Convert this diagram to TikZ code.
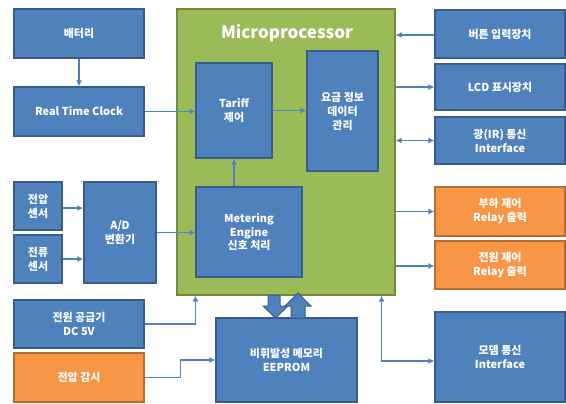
\documentclass[tikz,border=0pt]{standalone}
\usepackage{fontspec}
\setmainfont{Noto Sans CJK KR}
\usetikzlibrary{arrows.meta}

\definecolor{boxblue}{HTML}{4F81BD}
\definecolor{lineblue}{HTML}{385D8A}
\definecolor{boxorange}{HTML}{F79646}
\definecolor{lineorange}{HTML}{B66D31}
\definecolor{boxgreen}{HTML}{9BBB59}
\definecolor{linegreen}{HTML}{71893F}

\tikzset{
  bluebox/.style={draw=lineblue, fill=boxblue, line width=1.2bp, text=white,
    font=\fontsize{11}{14}\selectfont\bfseries, align=center, inner sep=1bp},
  orangebox/.style={bluebox, draw=lineorange, fill=boxorange},
  conn/.style={draw=boxblue, line width=1.3bp, -{Latex[length=6bp,width=6bp]}},
  bothconn/.style={conn, {Latex[length=6bp,width=6bp]}-{Latex[length=6bp,width=6bp]}},
  blockarrow/.style={draw=lineblue, fill=boxblue, line width=1bp}
}

\begin{document}
\begin{tikzpicture}[x=1bp, y=-1bp]
\useasboundingbox (0,0) rectangle (566,403);

% Microprocessor
\node[draw=linegreen, fill=boxgreen, line width=1.2bp, minimum width=218bp,
  minimum height=286bp, inner sep=0] (mcu) at (286,152) {};
\node[text=white, font=\fontsize{17}{20}\selectfont\bfseries] (mcutitle) at (287,33) {Microprocessor};

% Inside the microprocessor
\node[bluebox, minimum width=76bp, minimum height=95bp] (tariff) at (234,110.5) {Tariff\\제어};
\node[bluebox, minimum width=71bp, minimum height=120bp] (info) at (342.5,111) {요금 정보\\데이터\\관리};
\node[bluebox, minimum width=106bp, minimum height=90bp] (metering) at (249,232) {Metering\\Engine\\신호 처리};

% Left column
\node[bluebox, minimum width=130bp, minimum height=49bp] (battery) at (79,33.5) {배터리};
\node[bluebox, minimum width=130bp, minimum height=49bp] (rtc) at (79,111.5) {Real Time Clock};
\node[bluebox, minimum width=48bp, minimum height=48bp] (vsens) at (38,206) {전압\\센서};
\node[bluebox, minimum width=48bp, minimum height=48bp] (csens) at (38,259) {전류\\센서};
\node[bluebox, minimum width=72bp, minimum height=101bp] (adc) at (120,232.5) {A/D\\변환기};
\node[bluebox, minimum width=130bp, minimum height=48bp] (psu) at (79,324) {전원 공급기\\DC 5V};
\node[orangebox, minimum width=130bp, minimum height=49bp] (vmon) at (79,377.5) {전압 감시};
\node[bluebox, minimum width=141bp, minimum height=84bp] (eeprom) at (286.5,360) {비휘발성 메모리\\EEPROM};

% Right column
\node[bluebox, minimum width=130bp, minimum height=48bp] (button) at (500,34) {버튼 입력장치};
\node[bluebox, minimum width=130bp, minimum height=46bp] (lcd) at (500,87) {LCD 표시장치};
\node[bluebox, minimum width=130bp, minimum height=47bp] (ir) at (500,140.5) {광(IR) 통신\\Interface};
\node[orangebox, minimum width=130bp, minimum height=49bp] (load) at (500,211.5) {부하 제어\\Relay 출력};
\node[orangebox, minimum width=130bp, minimum height=48bp] (power) at (500,265) {전원 제어\\Relay 출력};
\node[bluebox, minimum width=130bp, minimum height=90bp] (modem) at (500,357) {모뎀 통신\\Interface};

% Connectors
\draw[conn] (battery) -- (rtc);
\draw[conn] (rtc.east) -- (rtc.east -| tariff.west);
\draw[conn] (tariff.east) -- (tariff.east -| info.west);
\draw[conn] (metering.north -| tariff.south) -- (tariff.south);
\draw[conn] ([yshift=-2bp]vsens.east) -- ([yshift=-2bp]vsens.east -| adc.west);
\draw[conn] (csens.east) -- (csens.east -| adc.west);
\draw[conn] (adc.east) -- (adc.east -| metering.west);
\draw[conn] ([yshift=-1bp]button.west) -- ([yshift=-1bp]button.west -| mcu.east);
\draw[conn] (mcu.east |- lcd.west) -- (lcd.west);
\draw[bothconn] (mcu.east |- ir.west) -- (ir.west);
\draw[conn] (mcu.east |- load.west) -- (load.west);
\draw[conn] ([yshift=-1bp]mcu.east |- power.west) -- ([yshift=-1bp]power.west);
\draw[conn] (psu.east) -| (metering.west |- mcu.south);
\draw[conn] (vmon.east) -- ++(36,0) |- (eeprom.west);
\draw[bothconn] ([xshift=-14bp]mcu.south east) |- ([yshift=-4bp]modem.west);

% Block arrows between microprocessor and EEPROM
\draw[blockarrow] (268,295) -- (280,295) -- (280,306) -- (288,306) -- (275.5,318)
  -- (263,306) -- (268,306) -- cycle;
\draw[blockarrow] (291,318) -- (305,318) -- (305,306) -- (311,306) -- (298,293)
  -- (285,306) -- (291,306) -- cycle;

\end{tikzpicture}
\end{document}
